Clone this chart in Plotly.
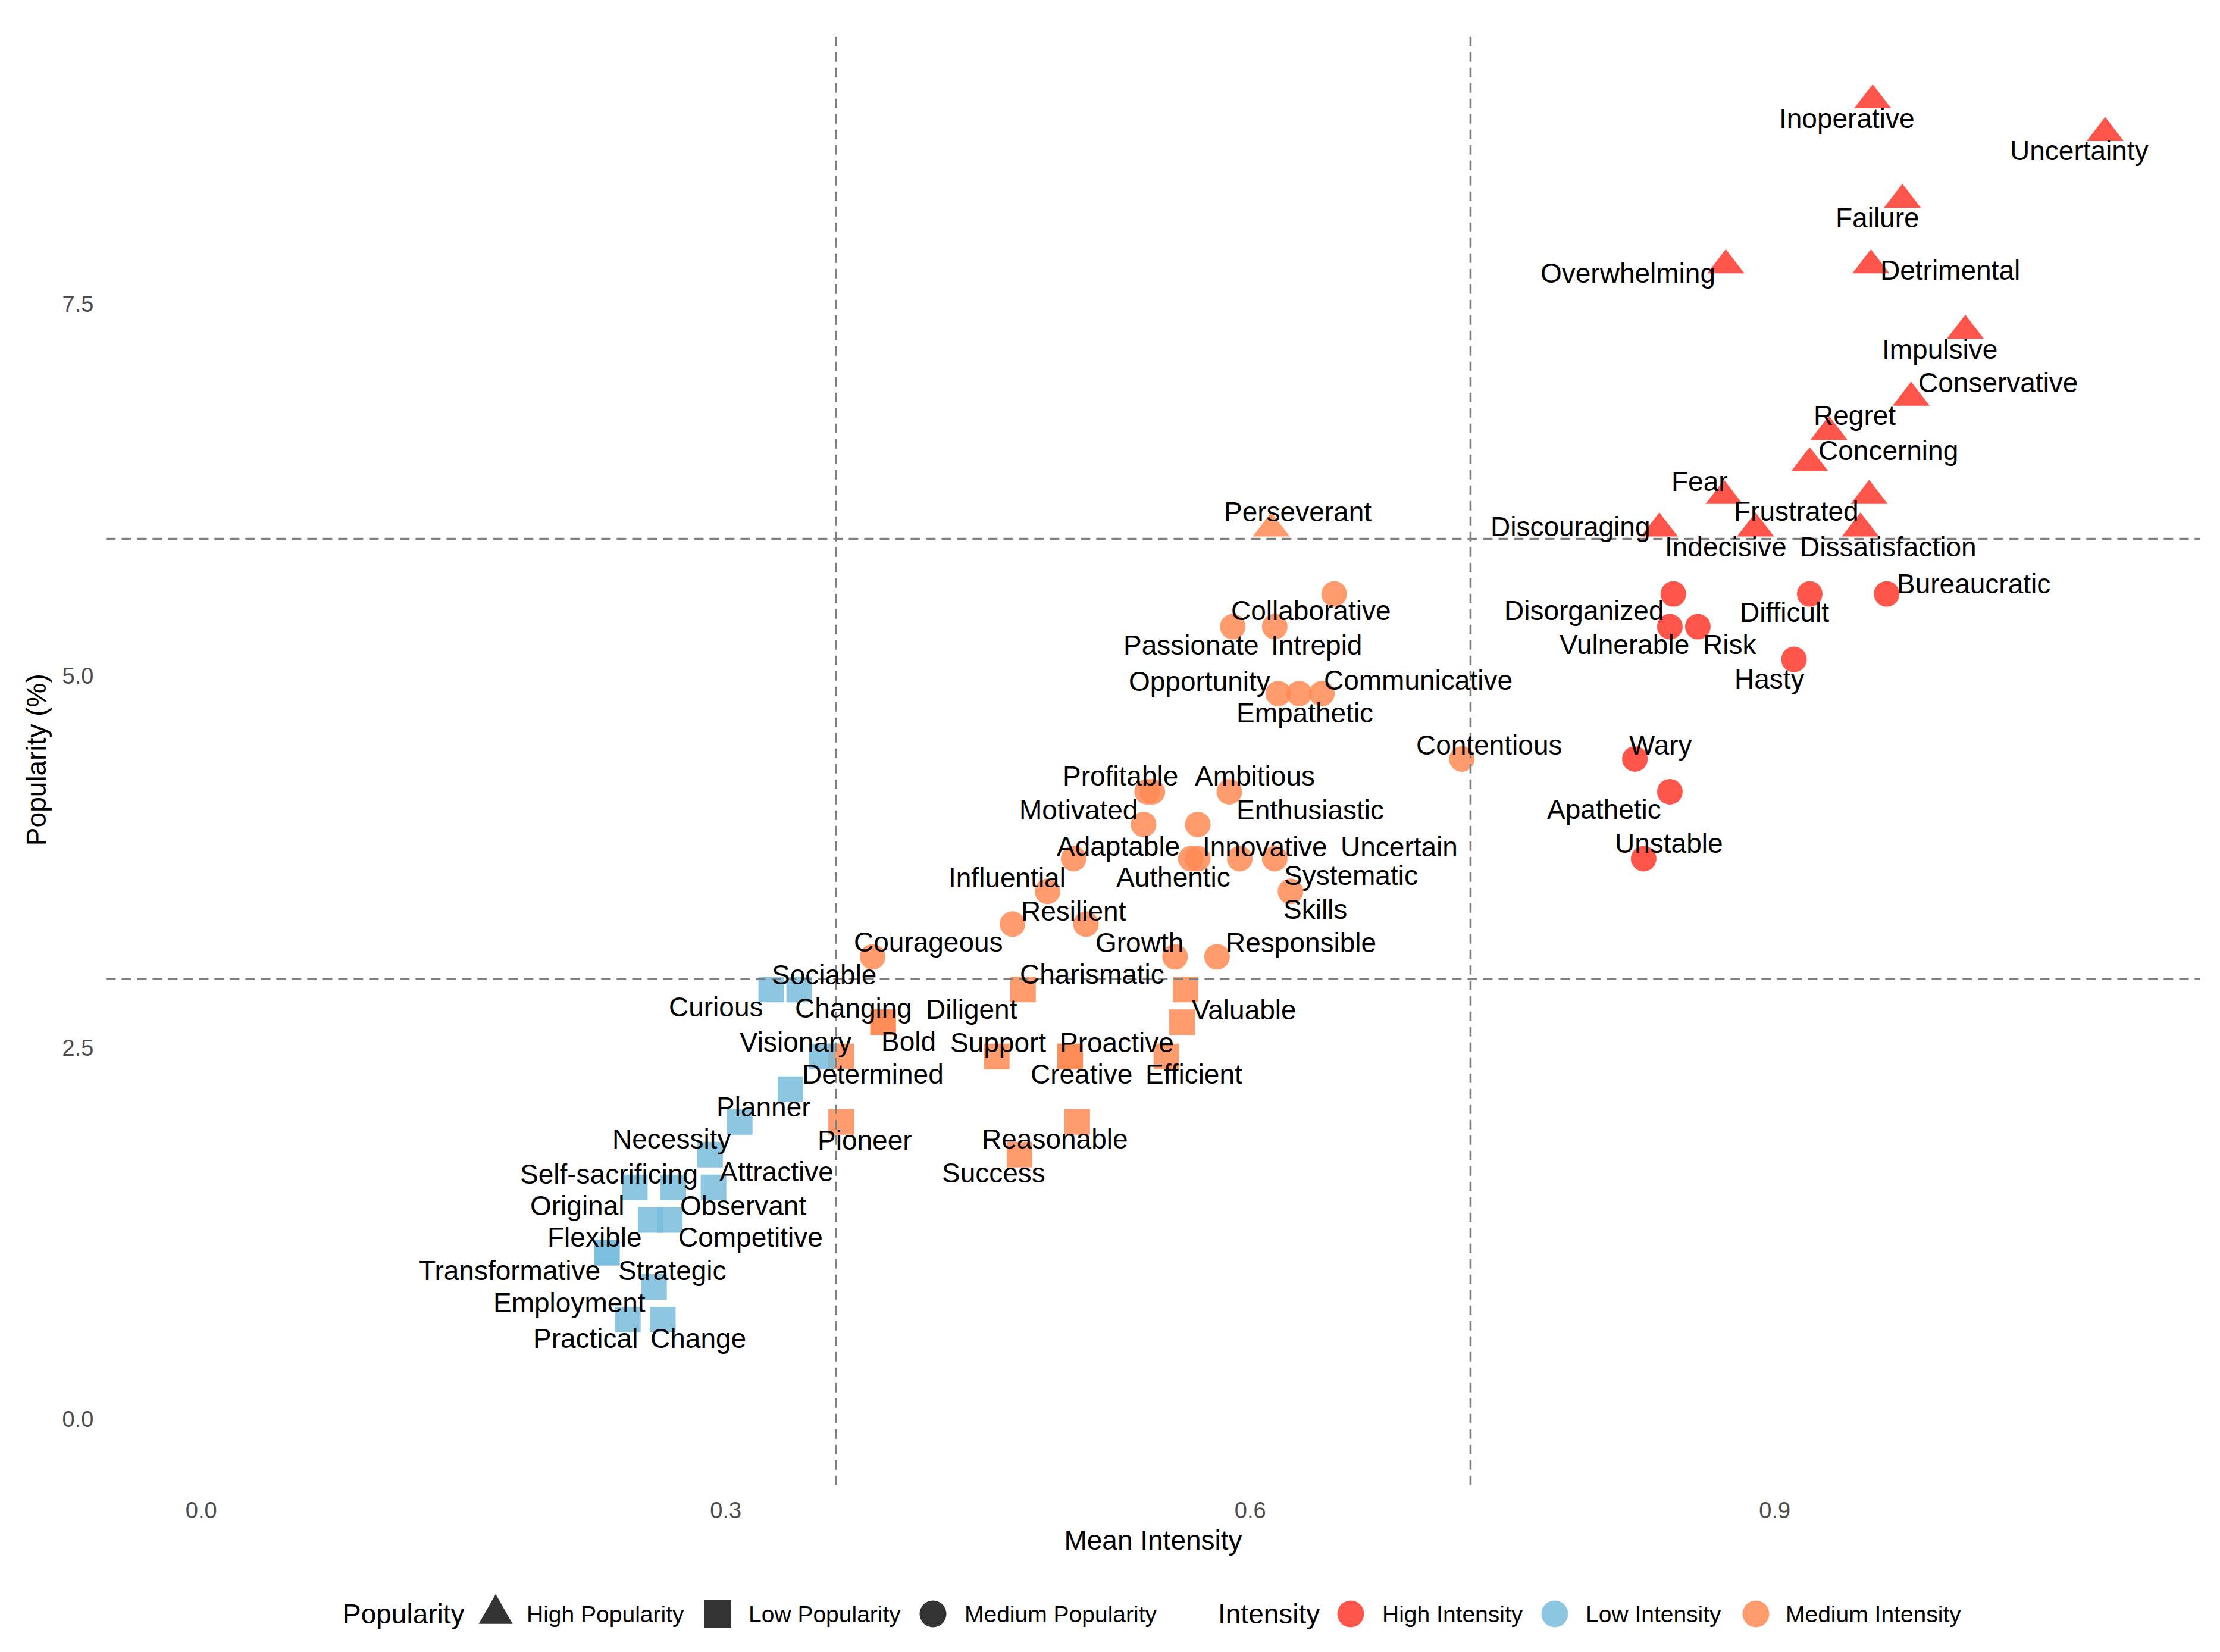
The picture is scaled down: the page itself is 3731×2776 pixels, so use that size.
import plotly.graph_objects as go

# the page body adds an 8px margin, so the figure is drawn 8px in and 8px down
PAGE_PAD = 8
W, H = 3731 - PAGE_PAD, 2776 - PAGE_PAD
FONT = "Liberation Sans, Arial, sans-serif"

# ---- data -------------------------------------------------------------
words = [
    # high popularity
    "Inoperative", "Uncertainty", "Failure", "Overwhelming", "Detrimental",
    "Impulsive", "Conservative", "Regret", "Concerning", "Fear", "Frustrated",
    "Discouraging", "Indecisive", "Dissatisfaction", "Perseverant",
    # medium popularity, high intensity
    "Disorganized", "Difficult", "Bureaucratic", "Vulnerable", "Risk", "Hasty",
    "Wary", "Apathetic", "Unstable",
    # medium popularity, medium intensity
    "Collaborative", "Passionate", "Intrepid", "Opportunity", "Empathetic",
    "Communicative", "Contentious", "Profitable", "", "Ambitious", "Motivated",
    "Enthusiastic", "Adaptable", "Authentic", "Innovative", "Uncertain",
    "Systematic", "Skills", "Influential", "Resilient", "", "Courageous",
    "Growth", "Responsible",
    # low popularity, medium intensity
    "Diligent", "Charismatic", "Valuable", "Changing", "Bold", "Determined",
    "Support", "Proactive", "Creative", "Efficient", "Pioneer", "Reasonable",
    "Success",
    # low popularity, low intensity
    "Curious", "Sociable", "Visionary", "Planner", "Necessity", "Attractive",
    "Original", "Self-sacrificing", "Observant", "Flexible", "Competitive",
    "Transformative", "Strategic", "Employment", "Practical", "Change",
]

mean_intensity = [
    0.956, 1.089, 0.973, 0.872, 0.955, 1.009, 0.978, 0.931, 0.920, 0.871,
    0.954, 0.834, 0.889, 0.949, 0.612,
    0.842, 0.920, 0.964, 0.840, 0.856, 0.911, 0.820, 0.840, 0.825,
    0.648, 0.590, 0.614, 0.616, 0.628, 0.641, 0.721, 0.541, 0.544, 0.588,
    0.539, 0.570, 0.499, 0.566, 0.570, 0.594, 0.614, 0.623, 0.484, 0.464,
    0.506, 0.384, 0.557, 0.581,
    0.470, 0.563, 0.561, 0.390, 0.390, 0.366, 0.455, 0.497, 0.497, 0.552,
    0.366, 0.501, 0.468,
    0.326, 0.342, 0.355, 0.337, 0.308, 0.291, 0.248, 0.270, 0.293, 0.257,
    0.268, 0.232, 0.232, 0.259, 0.244, 0.264,
]

popularity = [
    8.87, 8.65, 8.20, 7.76, 7.76, 7.32, 6.87, 6.64, 6.43, 6.21, 6.21,
    5.99, 5.99, 5.99, 5.99,
    5.55, 5.55, 5.55, 5.33, 5.33, 5.11, 4.44, 4.22, 3.77,
    5.55, 5.33, 5.33, 4.88, 4.88, 4.88, 4.44, 4.22, 4.22, 4.22, 4.00, 4.00,
    3.77, 3.77, 3.77, 3.77, 3.77, 3.55, 3.55, 3.33, 3.33, 3.11, 3.11, 3.11,
    2.89, 2.89, 2.67, 2.67, 2.67, 2.44, 2.44, 2.44, 2.44, 2.44, 2.00, 2.00,
    1.78,
    2.89, 2.89, 2.44, 2.22, 2.00, 1.78, 1.56, 1.56, 1.56, 1.34, 1.34, 1.12,
    1.12, 0.89, 0.67, 0.67,
]

pop_group = (["High Popularity"] * 15 + ["Medium Popularity"] * 33
             + ["Low Popularity"] * 29)
int_group = (["High Intensity"] * 14 + ["Medium Intensity"]
             + ["High Intensity"] * 9 + ["Medium Intensity"] * 24
             + ["Medium Intensity"] * 13 + ["Low Intensity"] * 16)

intensity_cuts = [0.363, 0.726]
popularity_cuts = [2.96, 5.92]

pop_levels = ["High Popularity", "Low Popularity", "Medium Popularity"]
int_levels = ["High Intensity", "Low Intensity", "Medium Intensity"]

# ---- styling ----------------------------------------------------------
symbols = {"High Popularity": "triangle-up", "Low Popularity": "square",
           "Medium Popularity": "circle"}
sizes = {"High Popularity": 54, "Low Popularity": 43, "Medium Popularity": 43}
colors = {"High Intensity": "#FF372B", "Low Intensity": "#78BCDC",
          "Medium Intensity": "#FF8A52"}
ALPHA = 0.85

# label offsets from the point (px right, px down), ggrepel style
label_offsets = {
    "Inoperative": (-43, 31), "Uncertainty": (-44, 30), "Failure": (-42, 30),
    "Overwhelming": (-164, 13), "Detrimental": (133, 8),
    "Impulsive": (-43, 31), "Conservative": (146, -29), "Regret": (43, -32),
    "Concerning": (132, -25), "Fear": (-41, -28), "Frustrated": (-122, 26),
    "Discouraging": (-150, -7), "Indecisive": (-50, 31),
    "Dissatisfaction": (47, 31), "Perseverant": (45, -32),
    "Disorganized": (-150, 28), "Difficult": (-42, 31),
    "Bureaucratic": (146, -21), "Vulnerable": (-76, 30), "Risk": (54, 30),
    "Hasty": (-41, 33), "Wary": (43, -27), "Apathetic": (-110, 30),
    "Unstable": (43, -30),
    "Collaborative": (-39, 28), "Passionate": (-70, 31), "Intrepid": (70, 31),
    "Opportunity": (-132, -25), "Empathetic": (10, 32),
    "Communicative": (162, -27), "Contentious": (46, -27),
    "Profitable": (-45, -30), "Ambitious": (43, -30), "Motivated": (-109, -28),
    "Enthusiastic": (189, -28), "Adaptable": (75, -25),
    "Authentic": (-29, 31), "Innovative": (113, -24), "Uncertain": (268, -24),
    "Systematic": (128, 28), "Skills": (42, 30), "Influential": (-68, -27),
    "Resilient": (103, -26), "Courageous": (94, -29), "Growth": (-60, -28),
    "Responsible": (141, -28),
    "Diligent": (-86, 33), "Charismatic": (-157, -30), "Valuable": (104, -25),
    "Changing": (-50, -28), "Bold": (43, 32), "Determined": (53, 30),
    "Support": (2, -27), "Proactive": (78, -27), "Creative": (19, 30),
    "Efficient": (46, 30), "Pioneer": (40, 31), "Reasonable": (-37, 29),
    "Success": (-43, 31),
    "Curious": (-93, 29), "Sociable": (42, -29), "Visionary": (-44, -28),
    "Planner": (-45, 30), "Necessity": (-115, 29), "Attractive": (112, 29),
    "Original": (-96, 31), "Self-sacrificing": (-108, -26),
    "Observant": (50, 31), "Flexible": (-94, 29), "Competitive": (136, 29),
    "Transformative": (-163, 30), "Strategic": (110, 30),
    "Employment": (-142, 26), "Practical": (-71, 31), "Change": (60, 31),
}

# panel placement (pixels of the screenshot)
PX0, PX1, PY0, PY1 = 178.4, 3697.6, 57.6, 2495.8

fig = go.Figure()

for pop in pop_levels:
    idx = [i for i, p in enumerate(pop_group) if p == pop]
    fig.add_trace(go.Scatter(
        x=[mean_intensity[i] for i in idx],
        y=[popularity[i] for i in idx],
        mode="markers",
        text=[words[i] for i in idx],
        marker=dict(symbol=symbols[pop], size=sizes[pop],
                    color=[colors[int_group[i]] for i in idx],
                    opacity=ALPHA, line=dict(width=0)),
        name=pop,
        showlegend=False,
        hovertemplate="%{text}<br>%{x:.3f}, %{y:.2f}<extra></extra>",
    ))

dash_line = dict(color="#7F7F7F", width=3.5, dash="16px,10px")
for v in intensity_cuts:
    fig.add_vline(x=v, line=dash_line)
for v in popularity_cuts:
    fig.add_hline(y=v, line=dash_line)

annotations = []
for w, xv, yv in zip(words, mean_intensity, popularity):
    if not w:
        continue
    dx, dy = label_offsets[w]
    if dy < 0:
        dy += 4  # labels sitting above a point render a touch high
    annotations.append(dict(
        x=xv, y=yv, xref="x", yref="y", text=w, showarrow=False,
        xshift=dx, yshift=-dy,
        font=dict(family=FONT, size=46, color="black"),
    ))


# ---- legend (drawn by hand so keys match the point sizes) ---------------
def fx(v):
    return (v - PAGE_PAD) / W


def fy(v):
    return 1 - (v - PAGE_PAD) / H


LEG_Y = 2712
shapes = []


def legend_key(kind, cx, color, opacity):
    if kind == "triangle-up":
        w, h = 57, 50
        path = "M {:.5f},{:.5f} L {:.5f},{:.5f} L {:.5f},{:.5f} Z".format(
            fx(cx), fy(LEG_Y - 2 * h / 3),
            fx(cx + w / 2), fy(LEG_Y + h / 3),
            fx(cx - w / 2), fy(LEG_Y + h / 3))
        shapes.append(dict(type="path", xref="paper", yref="paper", path=path,
                           fillcolor=color, opacity=opacity, line_width=0))
    else:
        r = 23 if kind == "square" else 22.5
        shapes.append(dict(type="rect" if kind == "square" else "circle",
                           xref="paper", yref="paper",
                           x0=fx(cx - r), x1=fx(cx + r),
                           y0=fy(LEG_Y + r), y1=fy(LEG_Y - r),
                           fillcolor=color, opacity=opacity, line_width=0))


def legend_text(text, left, size):
    annotations.append(dict(
        x=fx(left), y=fy(LEG_Y), xref="paper", yref="paper", text=text,
        showarrow=False, xanchor="left", yanchor="middle",
        font=dict(family=FONT, size=size, color="black"),
    ))


legend_text("Popularity", 574, 46)
for pop, kx, tx in zip(pop_levels, [833, 1206, 1568], [883, 1256, 1619]):
    legend_key(symbols[pop], kx, "#333333", 1)
    legend_text(pop, tx, 39)

legend_text("Intensity", 2045, 46)
for lvl, kx, tx in zip(int_levels, [2270, 2613, 2951], [2321, 2663, 2999]):
    legend_key("circle", kx, colors[lvl], ALPHA)
    legend_text(lvl, tx, 39)

fig.update_layout(
    width=W, height=H, autosize=False,
    margin=dict(l=0, r=0, t=0, b=0),
    plot_bgcolor="white", paper_bgcolor="white",
    font=dict(family=FONT, color="black"),
    annotations=annotations,
    shapes=list(fig.layout.shapes) + shapes,
    showlegend=False,
)

fig.update_xaxes(
    domain=[fx(PX0), fx(PX1)], range=[-0.0544, 1.1433],
    tick0=0, dtick=0.3, tickformat=".1f",
    showgrid=False, zeroline=False, showline=False, ticks="",
    tickfont=dict(family=FONT, size=38, color="#4D4D4D"),
    ticklabelstandoff=16,
    title=dict(text="Mean Intensity", standoff=14,
               font=dict(family=FONT, size=46, color="black")),
)
fig.update_yaxes(
    domain=[fy(PY1), fy(PY0)], range=[-0.4435, 9.3135],
    tick0=0, dtick=2.5, tickformat=".1f",
    showgrid=False, zeroline=False, showline=False, ticks="",
    tickfont=dict(family=FONT, size=38, color="#4D4D4D"),
    ticklabelstandoff=20,
    title=dict(text="Popularity (%)", standoff=12,
               font=dict(family=FONT, size=46, color="black")),
)

fig.write_html("out.html")
